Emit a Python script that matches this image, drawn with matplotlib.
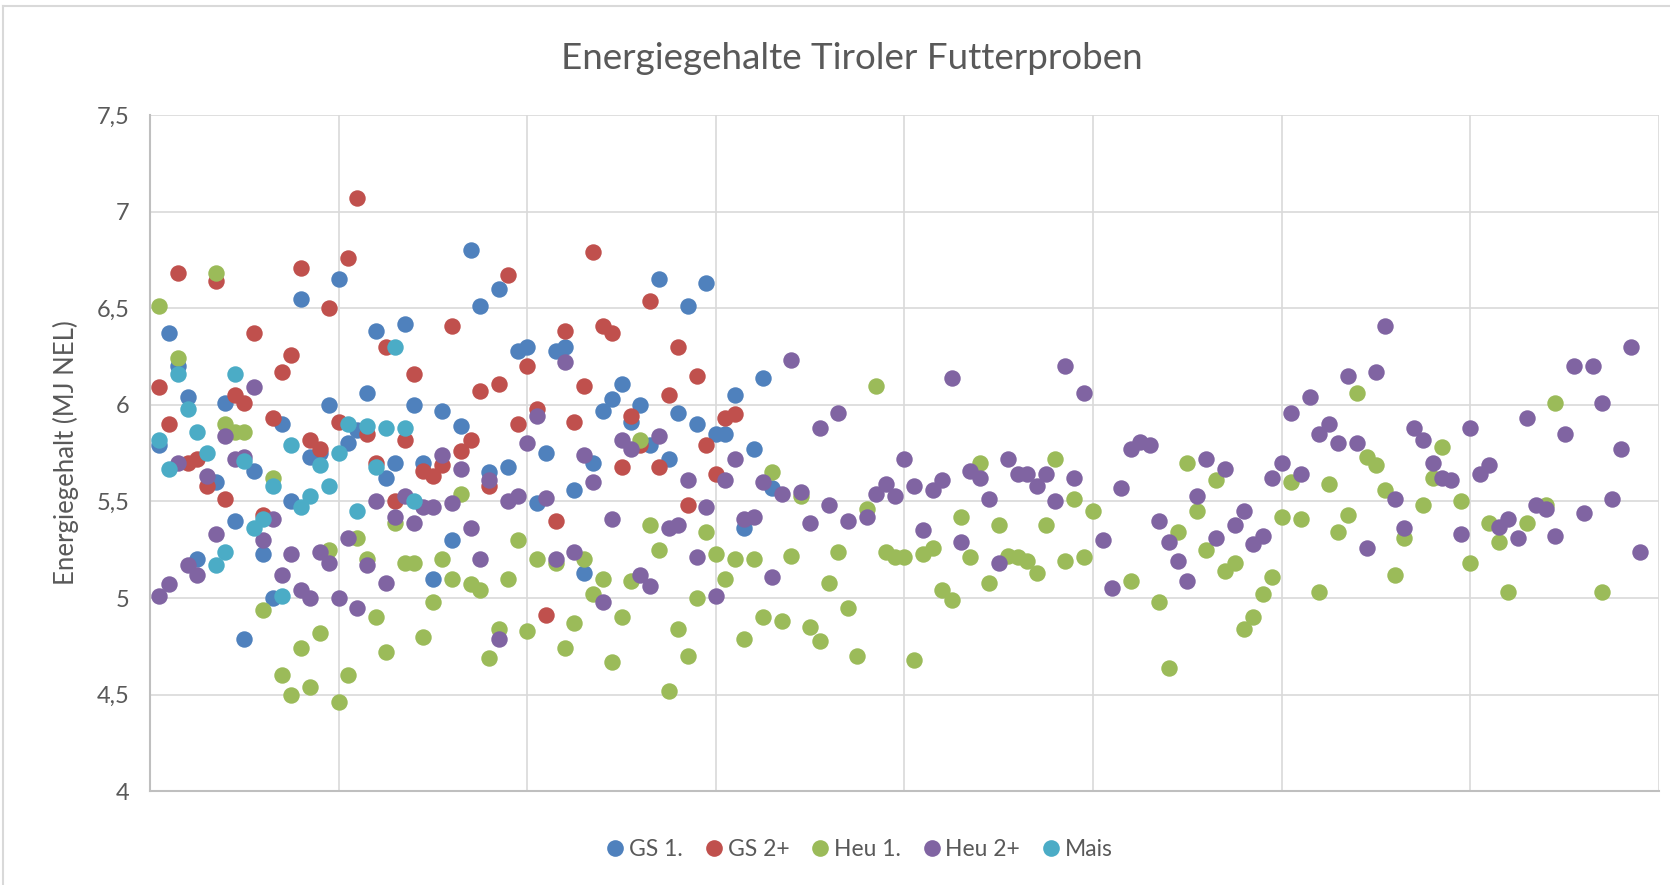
import numpy as np
import matplotlib
matplotlib.use("Agg")
import matplotlib.pyplot as plt
from matplotlib.ticker import FuncFormatter
from matplotlib.lines import Line2D

nan = np.nan

# values per sample (x = running sample number); nan = not visible in the original
gs1 = [5.79, 6.37, 6.20, 6.04, 5.20, nan, 5.60, 6.01, 5.40, 4.79,
       5.66, 5.23, 5.00, 5.90, 5.50, 6.55, 5.73, 5.75, 6.00, 6.65,
       5.80, 5.87, 6.06, 6.38, 5.62, 5.70, 6.42, 6.00, 5.70, 5.10,
       5.97, 5.30, 5.89, 6.80, 6.51, 5.65, 6.60, 5.68, 6.28, 6.30,
       5.49, 5.75, 6.28, 6.30, 5.56, 5.13, 5.70, 5.97, 6.03, 6.11,
       5.91, 6.00, 5.79, 6.65, 5.72, 5.96, 6.51, 5.90, 6.63, 5.85,
       5.85, 6.05, 5.36, 5.77, 6.14, 5.57]

gs2 = [6.09, 5.90, 6.68, 5.70, 5.72, 5.58, 6.64, 5.51, 6.05, 6.01,
       6.37, 5.43, 5.93, 6.17, 6.26, 6.71, 5.82, 5.77, 6.50, 5.91,
       6.76, 7.07, 5.85, 5.70, 6.30, 5.50, 5.82, 6.16, 5.66, 5.63,
       5.69, 6.41, 5.76, 5.82, 6.07, 5.58, 6.11, 6.67, 5.90, 6.20,
       5.98, 4.91, 5.40, 6.38, 5.91, 6.10, 6.79, 6.41, 6.37, 5.68,
       5.94, 5.79, 6.54, 5.68, 6.05, 6.30, 5.48, 6.15, 5.79, 5.64,
       5.93, 5.95]

heu1 = [6.51, nan, 6.24, nan, nan, nan, 6.68, 5.90, 5.86, 5.86,
        nan, 4.94, 5.62, 4.60, 4.50, 4.74, 4.54, 4.82, 5.25, 4.46,
        4.60, 5.31, 5.20, 4.90, 4.72, 5.39, 5.18, 5.18, 4.80, 4.98,
        5.20, 5.10, 5.54, 5.07, 5.04, 4.69, 4.84, 5.10, 5.30, 4.83,
        5.20, nan, 5.18, 4.74, 4.87, 5.20, 5.02, 5.10, 4.67, 4.90,
        5.09, 5.82, 5.38, 5.25, 4.52, 4.84, 4.70, 5.00, 5.34, 5.23,
        5.10, 5.20, 4.79, 5.20, 4.90, 5.65, 4.88, 5.22, 5.53, 4.85,
        4.78, 5.08, 5.24, 4.95, 4.70, 5.46, 6.10, 5.24, 5.21, 5.21,
        4.68, 5.23, 5.26, 5.04, 4.99, 5.42, 5.21, 5.70, 5.08, 5.38,
        5.22, 5.21, 5.19, 5.13, 5.38, 5.72, 5.19, 5.51, 5.21, 5.45,
        nan, nan, nan, 5.09, nan, nan, 4.98, 4.64, 5.34, 5.70,
        5.45, 5.25, 5.61, 5.14, 5.18, 4.84, 4.90, 5.02, 5.11, 5.42,
        5.60, 5.41, nan, 5.03, 5.59, 5.34, 5.43, 6.06, 5.73, 5.69,
        5.56, 5.12, 5.31, nan, 5.48, 5.62, 5.78, nan, 5.50, 5.18,
        nan, 5.39, 5.29, 5.03, nan, 5.39, nan, 5.48, 6.01, nan,
        nan, nan, nan, 5.03]

heu2 = [5.01, 5.07, 5.70, 5.17, 5.12, 5.63, 5.33, 5.84, 5.72, 5.73,
        6.09, 5.30, 5.41, 5.12, 5.23, 5.04, 5.00, 5.24, 5.18, 5.00,
        5.31, 4.95, 5.17, 5.50, 5.08, 5.42, 5.53, 5.39, 5.47, 5.47,
        5.74, 5.49, 5.67, 5.36, 5.20, 5.61, 4.79, 5.50, 5.53, 5.80,
        5.94, 5.52, 5.20, 6.22, 5.24, 5.74, 5.60, 4.98, 5.41, 5.82,
        5.77, 5.12, 5.06, 5.84, 5.36, 5.38, 5.61, 5.21, 5.47, 5.01,
        5.61, 5.72, 5.41, 5.42, 5.60, 5.11, 5.54, 6.23, 5.55, 5.39,
        5.88, 5.48, 5.96, 5.40, nan, 5.42, 5.54, 5.59, 5.53, 5.72,
        5.58, 5.35, 5.56, 5.61, 6.14, 5.29, 5.66, 5.62, 5.51, 5.18,
        5.72, 5.64, 5.64, 5.58, 5.64, 5.50, 6.20, 5.62, 6.06, nan,
        5.30, 5.05, 5.57, 5.77, 5.81, 5.79, 5.40, 5.29, 5.19, 5.09,
        5.53, 5.72, 5.31, 5.67, 5.38, 5.45, 5.28, 5.32, 5.62, 5.70,
        5.96, 5.64, 6.04, 5.85, 5.90, 5.80, 6.15, 5.80, 5.26, 6.17,
        6.41, 5.51, 5.36, 5.88, 5.82, 5.70, 5.62, 5.61, 5.33, 5.88,
        5.64, 5.69, 5.37, 5.41, 5.31, 5.93, 5.48, 5.46, 5.32, 5.85,
        6.20, 5.44, 6.20, 6.01, 5.51, 5.77, 6.30, 5.24]

mais = [5.82, 5.67, 6.16, 5.98, 5.86, 5.75, 5.17, 5.24, 6.16, 5.71,
        5.36, 5.41, 5.58, 5.01, 5.79, 5.47, 5.53, 5.69, 5.58, 5.75,
        5.90, 5.45, 5.89, 5.68, 5.88, 6.30, 5.88, 5.50]

series = [("GS 1.", gs1, "#4F81BD"),
          ("GS 2+", gs2, "#C0504D"),
          ("Heu 1.", heu1, "#9BBB59"),
          ("Heu 2+", heu2, "#8064A2"),
          ("Mais", mais, "#4BACC6")]

plt.rcParams['font.family'] = ['Lato', 'DejaVu Sans']
txt = "#595959"

fig = plt.figure(figsize=(16.7, 8.85), dpi=100)
ax = fig.add_axes([0.0898, 0.106, 0.9036, 0.764])

for name, vals, col in series:
    x = np.arange(1, len(vals) + 1)
    ax.scatter(x, vals, s=140, color=col, linewidths=0, label=name, zorder=3)

ax.set_xlim(0, 160)
ax.set_ylim(4, 7.5)
ax.set_xticks(np.arange(0, 161, 20))
ax.set_yticks(np.arange(4, 7.51, 0.5))
ax.xaxis.set_ticklabels([])
ax.yaxis.set_major_formatter(FuncFormatter(lambda v, p: ("%g" % v).replace(".", ",")))
ax.tick_params(axis='both', length=0)
ax.tick_params(axis='y', labelsize=17, labelcolor=txt, pad=15)
ax.grid(True, color="#d9d9d9", linewidth=1.2, zorder=0)
ax.set_axisbelow(True)
for s in ['top', 'right']:
    ax.spines[s].set_visible(False)
ax.spines['left'].set_color("#bfbfbf")
ax.spines['bottom'].set_color("#bfbfbf")
ax.spines['left'].set_linewidth(1.5)
ax.spines['bottom'].set_linewidth(1.5)

ax.set_ylabel("Energiegehalt (MJ NEL)", fontsize=18.5, color=txt)
ax.yaxis.set_label_coords(-0.047, 0.5)

fig.text(0.51, 0.934, "Energiegehalte Tiroler Futterproben", ha='center', va='center',
         fontsize=26.5, color=txt)

handles = [Line2D([], [], marker='o', linestyle='', markersize=12, color=c, markeredgewidth=0)
           for _, _, c in series]
fig.legend(handles, [n for n, _, _ in series], loc='center', bbox_to_anchor=(0.514, 0.04),
           ncol=5, frameon=False, fontsize=16.5, handletextpad=0.1, columnspacing=0.85,
           labelcolor=txt, handlelength=1.0)

# chart area border (top and left visible in the original)
fig.add_artist(Line2D([0.002, 1.0], [0.993, 0.993], color="#d9d9d9", linewidth=1.5))
fig.add_artist(Line2D([0.002, 0.002], [0.0, 0.993], color="#d9d9d9", linewidth=1.5))

fig.savefig("out.png", dpi=100)
